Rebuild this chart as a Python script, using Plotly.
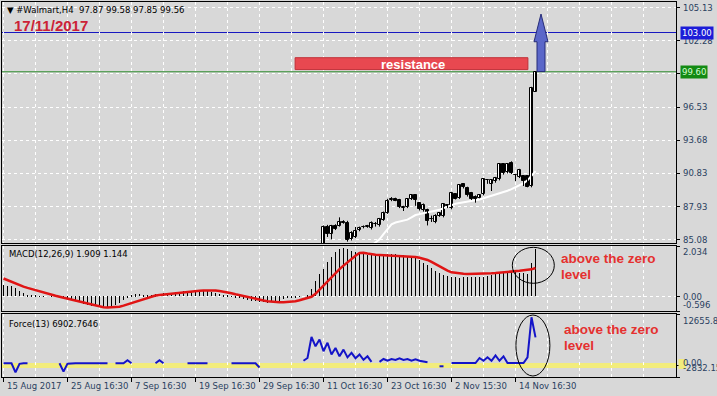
import plotly.graph_objects as go

# ---------------- data ----------------
n_bars = 134
x_label_text = ["15 Aug 2017", "25 Aug 16:30", "7 Sep 16:30", "19 Sep 16:30", "29 Sep 16:30",
                "11 Oct 16:30", "23 Oct 16:30", "2 Nov 15:30", "14 Nov 16:30"]
x_label_bars = [0, 16, 32, 48, 64, 80, 96, 112, 128]

candle_start = 80
candle_open = [84.7, 86.2, 85.55, 86.25, 86.25, 86.6, 86.55, 85.1, 85.3, 85.9,
               86.15, 86.2, 86.11, 86.45, 86.3, 86.8, 87.35, 88.5, 88.6, 88.5,
               87.85, 87.9, 88.55, 88.9, 88.2, 87.65, 87.6, 86.9, 86.6, 87.12,
               87.1, 88.05, 87.8, 89.0, 88.7, 89.86, 89.57, 89.14, 88.8, 88.7,
               89.0, 90.23, 89.86, 90.14, 90.29, 91.58, 90.9, 91.67, 90.7, 90.5,
               90.57, 90.57, 89.7, 97.87]
candle_high = [86.3, 86.35, 86.35, 86.4, 87.0, 86.75, 86.7, 85.8, 86.17, 86.2,
               86.3, 86.35, 86.65, 86.6, 86.95, 87.5, 88.6, 88.75, 88.7, 88.6,
               88.0, 88.6, 89.0, 89.0, 88.3, 88.2, 87.75, 87.15, 87.27, 87.45,
               88.2, 88.15, 89.15, 89.1, 89.85, 89.95, 89.65, 89.2, 88.9, 88.95,
               90.4, 90.3, 90.3, 90.5, 91.65, 91.7, 91.65, 91.85, 90.72, 91.2,
               90.65, 90.65, 98.3, 99.58]
candle_low = [84.5, 85.3, 85.1, 85.9, 86.2, 86.45, 84.9, 85.0, 85.2, 85.8,
              86.05, 86.1, 85.95, 86.2, 86.2, 86.7, 87.3, 88.4, 88.4, 87.8,
              87.55, 87.8, 88.5, 88.0, 87.6, 87.5, 86.3, 86.6, 86.49, 87.05,
              87.0, 87.8, 87.7, 88.55, 88.6, 89.5, 88.8, 88.5, 88.27, 88.65,
              88.9, 89.9, 89.28, 90.0, 90.2, 90.7, 90.8, 90.75, 90.14, 90.4,
              89.71, 89.6, 89.6, 97.85]
candle_close = [86.15, 85.55, 86.25, 85.97, 86.64, 86.55, 85.0, 85.68, 85.82, 86.1,
                86.2, 86.25, 86.48, 86.4, 86.83, 87.4, 88.45, 88.6, 88.45, 87.9,
                87.85, 88.56, 88.9, 88.47, 87.7, 88.1, 86.7, 86.85, 87.12, 87.35,
                88.13, 87.95, 89.08, 88.62, 89.77, 89.62, 88.9, 88.62, 88.6, 88.9,
                90.29, 90.2, 90.23, 90.43, 91.58, 90.8, 91.58, 90.85, 90.65, 91.09,
                90.14, 89.66, 98.2, 99.56]

ma_start = 88
ma_values = [84.0, 84.1, 84.2, 84.35, 84.55, 84.8, 85.1, 85.55, 85.95, 86.4,
             86.55, 86.65, 86.72, 86.8, 87.0, 87.2, 87.28, 87.35, 87.4, 87.45,
             87.55, 87.65, 87.8, 87.95, 88.1, 88.18, 88.25, 88.3, 88.35, 88.4,
             88.45, 88.55, 88.65, 88.75, 88.85, 89.0, 89.1, 89.2, 89.3, 89.45,
             89.6, 89.75, 89.95, 90.2, 90.6, 91.0]

macd_hist = [0.46, 0.43, 0.40, 0.33, 0.22, 0.12, 0.06, 0.03,
             0.02, 0.01, 0.01, 0.0, 0.01, 0.0, -0.01,
             -0.05, -0.1, -0.15, -0.2, -0.25, -0.3, -0.35, -0.38, -0.4, -0.42, -0.44, -0.45, -0.42,
             -0.36, -0.28, -0.15, -0.05,
             0.02, 0.08, 0.1, 0.06, 0.04,
             0.05, 0.08, 0.1, 0.12, 0.13, 0.15, 0.17, 0.18, 0.2, 0.21, 0.22, 0.23, 0.23, 0.22,
             0.2, 0.17, 0.13, 0.09, 0.05, 0.02,
             -0.02, -0.05, -0.08, -0.11, -0.15, -0.18, -0.21, -0.23, -0.25, -0.26, -0.25, -0.22,
             -0.18, -0.13, -0.09, -0.06, -0.04, -0.02, 0.0, 0.05,
             0.3, 0.6, 0.9, 1.1, 1.4, 1.6, 1.8, 1.9, 1.95, 1.92, 1.85, 1.8, 1.75,
             1.72, 1.68, 1.66, 1.65, 1.66, 1.68, 1.7, 1.72, 1.7, 1.68,
             1.66, 1.63, 1.6, 1.55, 1.47, 1.36, 1.25, 1.14, 1.04, 0.95,
             0.88, 0.82, 0.78, 0.76, 0.75, 0.76, 0.77, 0.78, 0.78, 0.79,
             0.8, 0.82, 0.86, 0.9, 0.95, 0.98, 1.0, 1.0, 0.98, 0.96,
             0.94, 0.92, 1.36, 1.909]

macd_signal = [0.72, 0.65, 0.58, 0.51, 0.45, 0.39, 0.34, 0.29, 0.24,
               0.19, 0.14, 0.10, 0.06, 0.02, -0.02,
               -0.06, -0.10, -0.14, -0.18, -0.22, -0.26, -0.30, -0.34, -0.38, -0.42,
               -0.44, -0.45, -0.45, -0.44, -0.42, -0.38, -0.33,
               -0.28, -0.22, -0.16, -0.10, -0.05, -0.01, 0.03,
               0.05, 0.07, 0.09, 0.10, 0.12, 0.13, 0.15, 0.16,
               0.18, 0.20, 0.22, 0.23, 0.24, 0.24, 0.23, 0.21, 0.19, 0.16,
               0.12, 0.08, 0.04, 0.0, -0.04, -0.08, -0.11, -0.14,
               -0.17, -0.20, -0.22, -0.23, -0.24, -0.24, -0.23, -0.22, -0.20,
               -0.16, -0.12, -0.09, -0.02, 0.10, 0.27,
               0.43, 0.60, 0.77, 0.94, 1.10, 1.24, 1.38, 1.50, 1.64, 1.75,
               1.76, 1.73, 1.69, 1.68, 1.67, 1.66, 1.66, 1.65,
               1.65, 1.64, 1.64, 1.63, 1.62, 1.59, 1.56, 1.52, 1.47,
               1.39, 1.30, 1.20, 1.12, 1.04, 0.97,
               0.94, 0.92, 0.91, 0.90, 0.90, 0.90, 0.91, 0.91, 0.92,
               0.93, 0.94, 0.95, 0.96, 0.98, 0.99, 1.01, 1.03,
               1.05, 1.07, 1.09, 1.144]

N = None
force_values = [550, 550, 550, -1700, 400, 550, 550, N, N, N,
                N, N, N, N, 550, -1500, 450, 550, 550, 550,
                550, 550, 550, 550, 550, 550, 550, N, 550, 550,
                550, 1300, 550, N, N, N, N, N, 550, 1300,
                550, N, N, N, N, N, 550, 550, 550, 550,
                550, 550, N, N, N, N, N, 550, 550, 550,
                550, 550, 550, 550, -500, N, N, N, N, N,
                N, N, N, N, N, 1170, 1840, 7000, 4700, 6400,
                3500, 5600, 2700, 4300, 2250, 3900, 2000, 3100, 1800, 2700,
                1400, 2250, 900, N, 900, 1590, 1170, 1590, 1340, 1760,
                1340, 1590, 1170, 1500, 1170, 900, 800, N, N, -200,
                -200, N, 600, 600, 600, 600, 600, 600, 600, 1840,
                1170, 2000, 1170, 2500, 1170, 2250, 600, 600, 600, 600,
                600, 2000, 11840, 6903]

price_ticks = [105.13, 102.28, 99.43, 96.53, 93.68, 90.83, 87.93, 85.08]
price_tick_text = ["105.13", "102.28", "", "96.53", "93.68", "90.83", "87.93", "85.08"]
resistance_level = 99.60
target_level = 103.00
macd_max, macd_min = 2.034, -0.596
force_max, force_min = 12655.87, -2832.15

# ---------------- geometry helpers (pixel -> paper) ----------------
PL, PR, PT, PB = 2, 676, 2, 377
def px(x):
    return (x - PL) / (PR - PL)
def py(y):
    return (PB - y) / (PB - PT)

BG = "#d8d8d8"
FONT = "DejaVu Sans"
GRID = dict(showgrid=True, gridcolor="white", griddash="3px,3px", gridwidth=1)

x_range = [-0.375, 168.125]
minor_grid = [v for v in range(8, 169, 8) if v not in x_label_bars]

def xaxis(anchor, bottom=False):
    d = dict(range=x_range, anchor=anchor, domain=[0, 1], **GRID,
             tickvals=x_label_bars, showticklabels=False,
             ticks="outside" if bottom else "", ticklen=4, tickcolor="black",
             minor=dict(tickvals=minor_grid, ticks="", **GRID),
             showline=True, mirror=True, linecolor="black", linewidth=1, zeroline=False)
    return d

fig = go.Figure()

# ----- main panel -----
fig.add_trace(go.Scatter(x=list(range(ma_start, ma_start + len(ma_values))), y=ma_values,
                         mode="lines", line=dict(color="white", width=2), xaxis="x", yaxis="y",
                         hoverinfo="skip"))
wx, wy = [], []
for k in range(len(candle_open)):
    i = candle_start + k
    wx += [i, i, None]
    wy += [candle_low[k], candle_high[k], None]
fig.add_trace(go.Scatter(x=wx, y=wy, mode="lines", line=dict(color="black", width=1),
                         xaxis="x", yaxis="y", hoverinfo="skip"))
for up in (True, False):
    xs, bs, hs = [], [], []
    for k in range(len(candle_open)):
        o, c = candle_open[k], candle_close[k]
        if (c >= o) == up:
            xs.append(candle_start + k)
            bs.append(min(o, c))
            hs.append(max(abs(c - o), 0.04))
    fig.add_trace(go.Bar(x=xs, y=hs, base=bs, width=0.6, xaxis="x", yaxis="y",
                         marker=dict(color="white" if up else "black",
                                     line=dict(color="black", width=1))))

# ----- MACD panel -----
fig.add_trace(go.Bar(x=list(range(n_bars)), y=macd_hist, width=0.25, xaxis="x2", yaxis="y2",
                     marker=dict(color="black", line=dict(width=0))))
fig.add_trace(go.Scatter(x=list(range(n_bars)), y=macd_signal, mode="lines",
                         line=dict(color="#e01414", width=2.5), xaxis="x2", yaxis="y2"))

# ----- Force panel -----
fig.add_trace(go.Scatter(x=list(range(n_bars)), y=force_values, mode="lines", connectgaps=False,
                         line=dict(color="#1414c8", width=2), xaxis="x3", yaxis="y3"))

main_dom = [py(243), 1.0]
macd_dom = [py(311), py(246)]
force_dom = [0.0, py(314)]

yax_common = dict(side="right", showline=True, mirror=True, linecolor="black", linewidth=1,
                  zeroline=False, showticklabels=False, ticks="outside", ticklen=3,
                  tickcolor="black")

shapes = [
    dict(type="line", xref="paper", x0=0, x1=1, yref="y3", y0=0, y1=0,
         line=dict(color="#f2ec7c", width=5), layer="between"),
    dict(type="line", xref="paper", x0=0, x1=1, yref="y", y0=target_level, y1=target_level,
         line=dict(color="#1818c0", width=1), layer="between"),
    dict(type="line", xref="paper", x0=0, x1=1, yref="y", y0=resistance_level, y1=resistance_level,
         line=dict(color="#2e8b2e", width=1), layer="between"),
    # resistance box
    dict(type="rect", xref="x", yref="y", x0=72.9, x1=131.1, y0=99.79, y1=100.82,
         fillcolor="#e84850", line=dict(color="#c03038", width=1)),
    # arrow
    dict(type="path", xref="x", yref="y",
         path="M 133.375 99.62 L 133.375 102.2 L 132.625 102.2 L 134.375 104.6 "
              "L 136.125 102.2 L 135.375 102.2 L 135.375 99.62 Z",
         fillcolor="#5b67c9", line=dict(color="#262c78", width=1)),
    # ellipses
    dict(type="circle", xref="x2", yref="y2", x0=127.2, x1=137.7, y0=0.525, y1=1.98,
         line=dict(color="black", width=1)),
    dict(type="circle", xref="x3", yref="y3", x0=128.1, x1=136.6, y0=-2586, y1=12410,
         line=dict(color="black", width=1)),
    # yellow 0.00 marker box on axis
    dict(type="rect", xref="paper", yref="paper", x0=px(678.5), x1=px(686), y0=py(369), y1=py(359),
         fillcolor="#f2ec7c", line=dict(width=0)),
]

ann = []
def txt(t, x, y, size=8.5, color="black", family=FONT, xanchor="left", weight="normal", **kw):
    ann.append(dict(text=t, xref="paper", yref="paper", x=px(x), y=py(y), xanchor=xanchor,
                    yanchor="middle", showarrow=False,
                    font=dict(family=family, size=size, color=color, weight=weight), **kw))

txt("\u25bc #Walmart,H4\u00a0\u00a097.87 99.58 97.85 99.56", 5, 10)
txt("17/11/2017", 12, 26, size=15, color="#cc2236", family="Liberation Sans", weight="bold")
txt("MACD(12,26,9) 1.909 1.144", 7, 254)
txt("Force(13) 6902.7646", 7, 324)
txt("resistance", 413, 64.5, size=13, color="white", family="Liberation Sans", xanchor="center",
    weight="bold")
red = "#e5302f"
txt("above the zero", 559, 258.5, size=13.5, color=red, family="Liberation Sans", weight="bold")
txt("level", 559, 274.5, size=13.5, color=red, family="Liberation Sans", weight="bold")
txt("above the zero", 562, 329, size=13.5, color=red, family="Liberation Sans", weight="bold")
txt("level", 562, 345, size=13.5, color=red, family="Liberation Sans", weight="bold")

# right axis labels
for v, t in zip(price_ticks, price_tick_text):
    if t:
        ann.append(dict(text=t, xref="paper", x=1, xshift=5, xanchor="left", yref="y", y=v,
                        yanchor="middle", showarrow=False, font=dict(family=FONT, size=8.5)))
ann.append(dict(text="103.00", xref="paper", x=1, xshift=4, xanchor="left", yref="y", y=target_level,
                yanchor="middle", showarrow=False, bgcolor="#1c1cd8", borderpad=1,
                font=dict(family=FONT, size=8.5, color="white")))
ann.append(dict(text="99.60", xref="paper", x=1, xshift=4, xanchor="left", yref="y", y=resistance_level,
                yanchor="middle", showarrow=False, bgcolor="#138a13", borderpad=1,
                font=dict(family=FONT, size=8.5, color="#d4ffd4")))
for v, t, sh in [(macd_max, "2.034", -6), (0, "0.00", -1), (macd_min, "-0.596", 6)]:
    ann.append(dict(text=t, xref="paper", x=1, xshift=5, xanchor="left", yref="y2", y=v, yshift=sh,
                    yanchor="middle", showarrow=False, font=dict(family=FONT, size=8.5)))
for v, t, sh in [(force_max, "12655.87", -7), (0, "0.00", 2), (force_min, "-2832.15", 9)]:
    ann.append(dict(text=t, xref="paper", x=1, xshift=5, xanchor="left", yref="y3", y=v, yshift=sh,
                    yanchor="middle", showarrow=False, font=dict(family=FONT, size=8.5)))

# bottom time labels
for b, t in zip(x_label_bars, x_label_text):
    ann.append(dict(text=t, xref="x3", x=b, xshift=1, xanchor="left", yref="paper", y=0, yshift=-2,
                    yanchor="top", showarrow=False, font=dict(family=FONT, size=8.5)))

fig.update_layout(
    width=717, height=396, margin=dict(l=PL, r=717 - PR, t=PT, b=396 - PB),
    paper_bgcolor=BG, plot_bgcolor=BG, showlegend=False, barmode="overlay", bargap=0,
    xaxis=xaxis("y"), xaxis2=xaxis("y2"), xaxis3=xaxis("y3", bottom=True),
    yaxis=dict(domain=main_dom, range=[84.78, 105.64], tickvals=price_ticks, **GRID, **yax_common),
    yaxis2=dict(domain=macd_dom, range=[macd_min, macd_max], tickvals=[macd_max, 0, macd_min],
                **GRID, **yax_common),
    yaxis3=dict(domain=force_dom, range=[force_min, force_max], tickvals=[force_max, 0, force_min],
                showgrid=False, **yax_common),
    shapes=shapes, annotations=ann, hovermode=False,
)
fig.write_html("out.html", config={"displayModeBar": False},
               post_script="document.body.style.margin='0';document.body.style.overflow='hidden';")
